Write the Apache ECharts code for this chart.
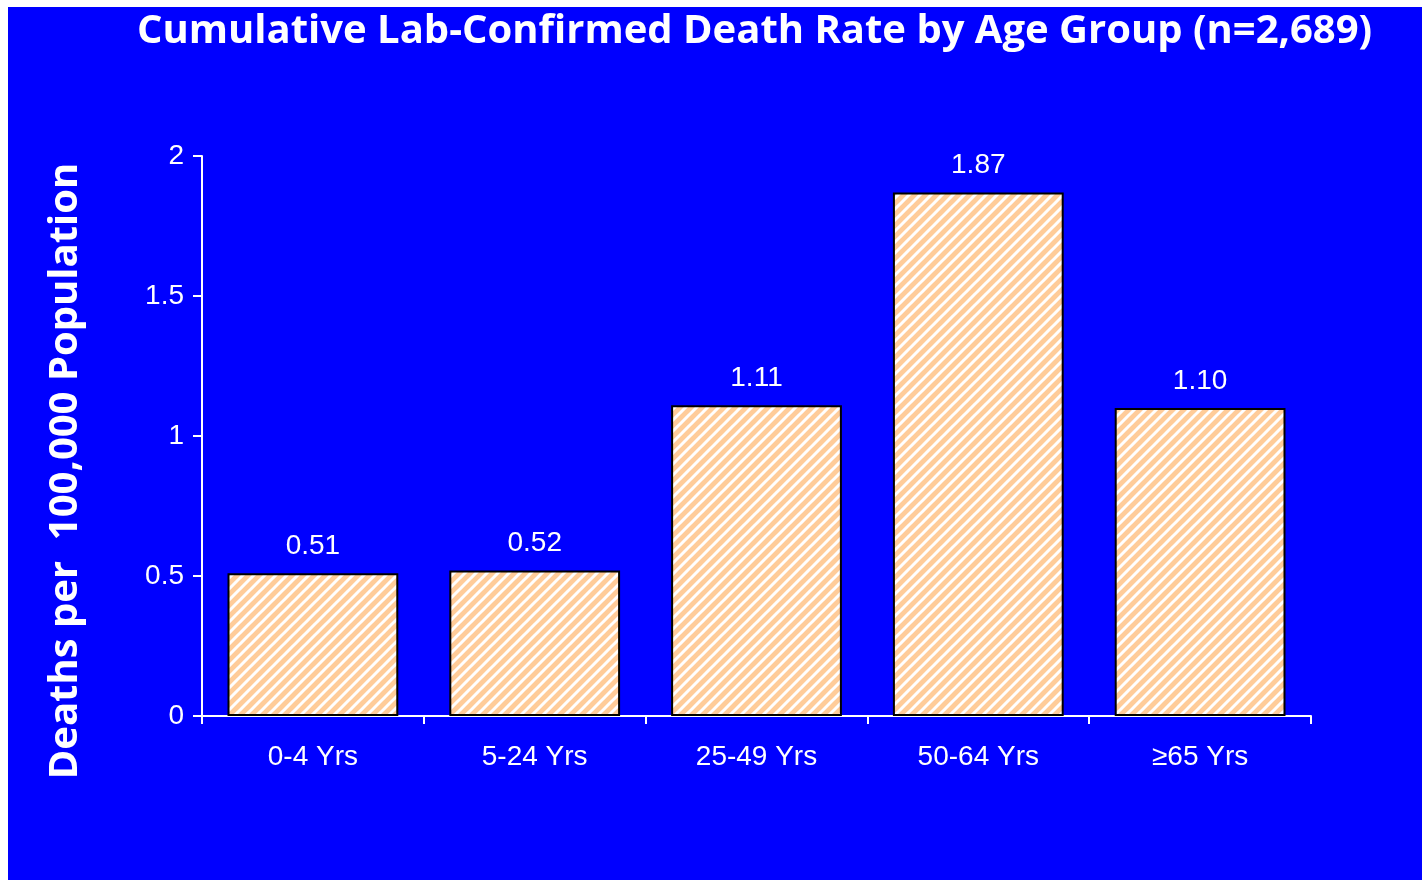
<!DOCTYPE html>
<html>
<head>
<meta charset="utf-8">
<script src="https://cdn.jsdelivr.net/npm/echarts@6/dist/echarts.min.js"></script>
<style>
html,body{margin:0;padding:0;background:#fff;width:1422px;height:883px;overflow:hidden;}
#chart{position:absolute;left:8px;top:7px;width:1414px;height:873px;}
</style>
</head>
<body>
<div id="chart"></div>
<script>
const categories = ['0-4 Yrs', '5-24 Yrs', '25-49 Yrs', '50-64 Yrs', '≥65 Yrs'];
const values = [0.51, 0.52, 1.11, 1.87, 1.10];
const valueLabels = ['0.51', '0.52', '1.11', '1.87', '1.10'];
const titleText = 'Cumulative Lab-Confirmed Death Rate by Age Group (n=2,689)';
const yAxisTitle = 'Deaths per  100,000 Population';

function makePattern() {
  const s = 11;
  const c = document.createElement('canvas');
  c.width = s; c.height = s;
  const ctx = c.getContext('2d');
  ctx.fillStyle = '#FFCC99';
  ctx.fillRect(0, 0, s, s);
  ctx.strokeStyle = '#FFFFFF';
  ctx.lineWidth = 3;
  ctx.beginPath();
  for (let k = -1; k <= 1; k++) {
    ctx.moveTo(k * s - 1, s + 1);
    ctx.lineTo(k * s + s + 1, -1);
  }
  ctx.stroke();
  return c;
}

const chart = echarts.init(document.getElementById('chart'));
chart.setOption({
  backgroundColor: '#0000FF',
  animation: false,
  title: {
    text: titleText,
    left: 124,
    top: 0,
    textStyle: { color: '#FFFFFF', fontFamily: 'Open Sans', fontWeight: 'bold', fontSize: 40 }
  },
  graphic: [{
    type: 'text',
    x: 58,
    y: 464,
    rotation: Math.PI / 2,
    style: {
      text: yAxisTitle,
      fill: '#FFFFFF',
      font: 'bold 40px "Open Sans"',
      textAlign: 'center',
      textVerticalAlign: 'middle'
    }
  }],
  grid: { left: 194, right: 111, top: 149, bottom: 164 },
  xAxis: {
    type: 'category',
    data: categories,
    axisLine: { lineStyle: { color: '#FFFFFF', width: 2 } },
    axisTick: { show: true, length: 8, lineStyle: { color: '#FFFFFF', width: 2 } },
    axisLabel: { color: '#FFFFFF', fontFamily: 'Liberation Sans', fontSize: 28, margin: 27 }
  },
  yAxis: {
    type: 'value',
    min: 0, max: 2, interval: 0.5,
    splitLine: { show: false },
    axisLine: { show: true, lineStyle: { color: '#FFFFFF', width: 2 } },
    axisTick: { show: true, length: 9, lineStyle: { color: '#FFFFFF', width: 2 } },
    axisLabel: { color: '#FFFFFF', fontFamily: 'Liberation Sans', fontSize: 28, margin: 18 }
  },
  series: [{
    type: 'bar',
    data: values,
    barCategoryGap: '23%',
    itemStyle: {
      color: { image: makePattern(), repeat: 'repeat' },
      borderColor: '#000000',
      borderWidth: 2
    },
    label: {
      show: true,
      position: 'top',
      distance: 13,
      color: '#FFFFFF',
      fontFamily: 'Liberation Sans',
      fontSize: 28,
      formatter: p => valueLabels[p.dataIndex]
    }
  }]
});
</script>
</body>
</html>
